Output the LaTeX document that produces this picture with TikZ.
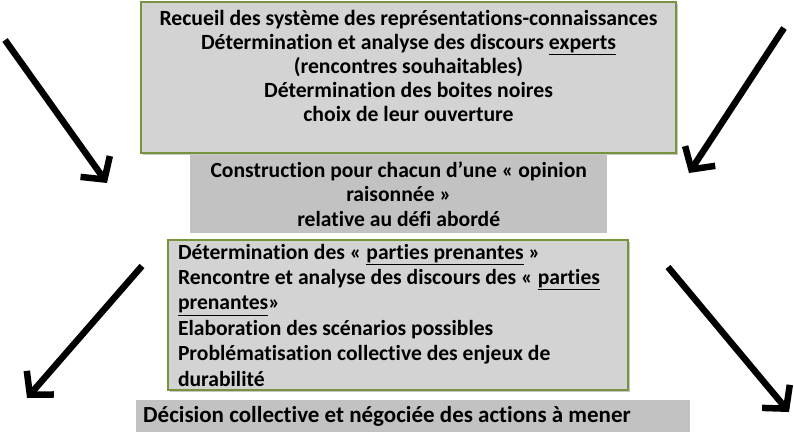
\documentclass[tikz,border=0pt]{standalone}
\usepackage{fontspec}
\setmainfont{Carlito}[Ligatures=NoCommon]
\usepackage{xcolor}
\usepackage{tikz}
\usetikzlibrary{arrows.meta}
\usetikzlibrary{shadows}
\usetikzlibrary{positioning}
\definecolor{boxgreen}{HTML}{77933C}
\definecolor{boxgrey}{HTML}{D3D3D3}
\definecolor{bandgrey}{HTML}{C2C2C2}

\begin{document}
\begin{tikzpicture}[
  x=1pt, y=1pt,
  framebox/.style={draw=boxgreen, line width=2pt, fill=boxgrey, inner xsep=0pt, inner ysep=4pt,
    anchor=north west, drop shadow={shadow xshift=2pt, shadow yshift=-2pt, opacity=0.45},
    execute at begin node={\spaceskip=0pt\xspaceskip=0pt}},
  bandbox/.style={fill=bandgrey, inner xsep=0pt, inner ysep=2pt, anchor=north west,
    execute at begin node={\spaceskip=0pt\xspaceskip=0pt}},
  bigarrow/.style={line width=6.5pt, -{Straight Barb[length=16pt,width=36pt]}},
  font=\bfseries\fontsize{21.7}{24}\selectfont
]
\useasboundingbox (0,0) rectangle (794,-431);

\node[framebox, minimum width=535pt, minimum height=151pt, align=center] (recueil) at (140,-1) {
  Recueil des système des représentations-connaissances\\
  Détermination et analyse des discours \underline{experts}\\
  (rencontres souhaitables)\\
  Détermination des boites noires\\
  choix de leur ouverture\\
  ~};

\node[bandbox, minimum width=417pt, minimum height=78pt, align=center,
  font=\bfseries\fontsize{21.6}{24.5}\selectfont] (opinion) at (190,-155) {
  Construction pour chacun d’une « opinion\\
  raisonnée »\\
  relative au défi abordé};

\node[framebox, minimum width=460pt, minimum height=150pt, text width=440pt, align=flush left,
  font=\bfseries\fontsize{21.6}{25.4}\selectfont] (parties) at (167,-239) {
  Détermination des « \underline{parties prenantes} »\\
  Rencontre et analyse des discours des « \underline{parties}\\
  \underline{prenantes}»\\
  Elaboration des scénarios possibles\\
  Problématisation collective des enjeux de\\
  durabilité};

\node[bandbox, minimum width=554pt, minimum height=32pt, text width=540pt, align=flush left,
  font=\bfseries\fontsize{23}{26}\selectfont] (decision) at (136,-400) {
  Décision collective et négociée des actions à mener};

% arrows
\coordinate (nw from) at (5,-40);    \coordinate (nw to) at (107,-183);
\coordinate (ne from) at (784,-28);  \coordinate (ne to) at (689,-173);
\coordinate (sw from) at (142,-266); \coordinate (sw to) at (27,-398);
\coordinate (se from) at (668,-267); \coordinate (se to) at (789,-412);
\draw[bigarrow] (nw from) -- (nw to);
\draw[bigarrow] (ne from) -- (ne to);
\draw[bigarrow] (sw from) -- (sw to);
\draw[bigarrow] (se from) -- (se to);

\end{tikzpicture}
\end{document}
